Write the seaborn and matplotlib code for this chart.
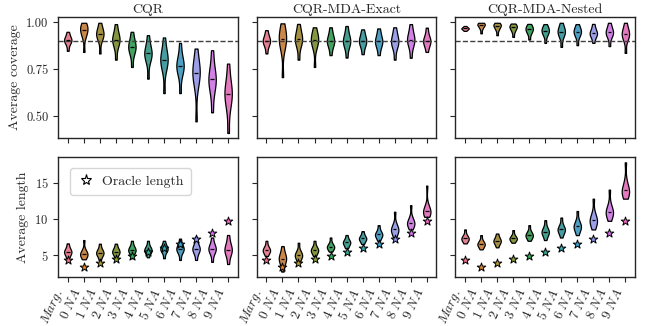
import numpy as np
import pandas as pd
import matplotlib
matplotlib.use("Agg")
import matplotlib.pyplot as plt
from matplotlib.lines import Line2D
import seaborn as sns

# categories (missing-data patterns) and panel titles
groups = ["Marg."] + [f"{k} NA" for k in range(10)]
tick_labels = [r"$Marg.$"] + [rf"${k}\ NA$" for k in range(10)]
methods = ["CQR", "CQR-MDA-Exact", "CQR-MDA-Nested"]

cov_cqr = [
    [0.847, 0.878, 0.892, 0.900, 0.904, 0.908, 0.916, 0.930, 0.948],
    [0.841, 0.915, 0.935, 0.950, 0.957, 0.964, 0.975, 0.986, 0.996],
    [0.833, 0.900, 0.918, 0.930, 0.936, 0.942, 0.955, 0.972, 0.996],
    [0.800, 0.862, 0.885, 0.899, 0.907, 0.915, 0.930, 0.952, 0.989],
    [0.761, 0.822, 0.845, 0.860, 0.868, 0.876, 0.892, 0.915, 0.948],
    [0.699, 0.785, 0.810, 0.825, 0.833, 0.841, 0.858, 0.885, 0.930],
    [0.622, 0.740, 0.772, 0.790, 0.800, 0.810, 0.830, 0.862, 0.918],
    [0.622, 0.712, 0.742, 0.759, 0.768, 0.777, 0.795, 0.830, 0.889],
    [0.472, 0.650, 0.695, 0.720, 0.731, 0.742, 0.765, 0.805, 0.859],
    [0.520, 0.615, 0.655, 0.683, 0.695, 0.707, 0.735, 0.780, 0.850],
    [0.410, 0.530, 0.578, 0.606, 0.619, 0.632, 0.660, 0.705, 0.779],
]
cov_exact = [
    [0.833, 0.868, 0.884, 0.894, 0.900, 0.906, 0.917, 0.933, 0.957],
    [0.707, 0.845, 0.880, 0.900, 0.910, 0.920, 0.940, 0.968, 0.993],
    [0.800, 0.862, 0.886, 0.901, 0.910, 0.919, 0.935, 0.958, 0.990],
    [0.761, 0.858, 0.882, 0.897, 0.905, 0.913, 0.927, 0.947, 0.972],
    [0.824, 0.862, 0.880, 0.892, 0.900, 0.908, 0.922, 0.942, 0.972],
    [0.811, 0.858, 0.878, 0.892, 0.900, 0.908, 0.922, 0.945, 0.979],
    [0.829, 0.864, 0.880, 0.892, 0.900, 0.908, 0.920, 0.938, 0.961],
    [0.824, 0.860, 0.878, 0.890, 0.898, 0.906, 0.920, 0.940, 0.966],
    [0.800, 0.856, 0.876, 0.889, 0.898, 0.907, 0.922, 0.944, 0.972],
    [0.810, 0.862, 0.884, 0.898, 0.907, 0.916, 0.932, 0.955, 0.989],
    [0.841, 0.868, 0.883, 0.893, 0.900, 0.907, 0.918, 0.938, 0.970],
]
cov_nested = [
    [0.953, 0.958, 0.962, 0.964, 0.966, 0.968, 0.970, 0.974, 0.979],
    [0.940, 0.962, 0.972, 0.979, 0.984, 0.987, 0.990, 0.993, 0.996],
    [0.930, 0.955, 0.966, 0.974, 0.979, 0.983, 0.987, 0.991, 0.996],
    [0.921, 0.946, 0.958, 0.966, 0.972, 0.976, 0.980, 0.985, 0.992],
    [0.907, 0.935, 0.947, 0.955, 0.961, 0.966, 0.972, 0.980, 0.990],
    [0.889, 0.925, 0.938, 0.947, 0.953, 0.959, 0.966, 0.976, 0.989],
    [0.868, 0.915, 0.931, 0.941, 0.948, 0.955, 0.964, 0.977, 0.996],
    [0.877, 0.918, 0.932, 0.942, 0.948, 0.954, 0.962, 0.974, 0.989],
    [0.889, 0.915, 0.927, 0.935, 0.940, 0.946, 0.955, 0.970, 0.990],
    [0.872, 0.915, 0.930, 0.939, 0.945, 0.951, 0.961, 0.976, 0.996],
    [0.836, 0.900, 0.918, 0.929, 0.936, 0.943, 0.955, 0.972, 0.996],
]

# per-group interval length observations
len_cqr = [
    [4.60, 4.98, 5.20, 5.38, 5.50, 5.62, 5.82, 6.12, 6.64],
    [4.45, 4.75, 4.95, 5.08, 5.18, 5.30, 5.50, 5.85, 7.10],
    [4.36, 4.85, 5.08, 5.24, 5.36, 5.48, 5.68, 5.98, 6.60],
    [4.45, 4.98, 5.22, 5.38, 5.50, 5.62, 5.82, 6.10, 6.60],
    [4.60, 5.20, 5.45, 5.61, 5.73, 5.85, 6.05, 6.35, 7.00],
    [4.73, 5.22, 5.46, 5.62, 5.73, 5.84, 6.04, 6.34, 7.00],
    [4.60, 5.35, 5.62, 5.78, 5.90, 6.02, 6.20, 6.48, 7.00],
    [4.36, 5.28, 5.58, 5.77, 5.90, 6.03, 6.25, 6.60, 7.30],
    [4.36, 5.22, 5.55, 5.76, 5.90, 6.04, 6.30, 6.70, 7.55],
    [4.10, 5.15, 5.52, 5.75, 5.90, 6.05, 6.30, 6.70, 7.45],
    [3.80, 4.85, 5.30, 5.60, 5.80, 6.00, 6.35, 6.90, 7.80],
]
len_exact = [
    [4.90, 5.25, 5.45, 5.61, 5.73, 5.85, 6.03, 6.35, 7.00],
    [2.76, 3.55, 4.05, 4.35, 4.55, 4.75, 5.05, 5.50, 6.27],
    [4.10, 4.50, 4.75, 4.92, 5.04, 5.16, 5.38, 5.75, 6.73],
    [4.90, 5.25, 5.45, 5.61, 5.73, 5.85, 6.03, 6.35, 7.00],
    [5.50, 5.78, 5.95, 6.08, 6.18, 6.28, 6.45, 6.75, 7.45],
    [5.96, 6.28, 6.50, 6.67, 6.78, 6.89, 7.05, 7.32, 7.80],
    [6.55, 6.88, 7.08, 7.22, 7.33, 7.44, 7.60, 7.88, 8.33],
    [7.00, 7.38, 7.60, 7.76, 7.87, 7.98, 8.18, 8.52, 9.15],
    [7.45, 7.95, 8.25, 8.44, 8.56, 8.70, 8.95, 9.45, 11.00],
    [8.56, 8.95, 9.18, 9.35, 9.47, 9.60, 9.85, 10.35, 11.90],
    [10.30, 10.58, 10.80, 10.96, 11.07, 11.20, 11.45, 12.00, 14.60],
]
len_nested = [
    [6.64, 6.92, 7.10, 7.23, 7.33, 7.43, 7.60, 7.90, 8.56],
    [5.82, 6.12, 6.32, 6.46, 6.55, 6.65, 6.82, 7.10, 7.78],
    [6.10, 6.50, 6.72, 6.88, 7.00, 7.12, 7.30, 7.58, 8.00],
    [6.73, 6.98, 7.14, 7.25, 7.33, 7.42, 7.58, 7.85, 8.47],
    [7.00, 7.32, 7.53, 7.68, 7.78, 7.89, 8.08, 8.40, 9.15],
    [7.10, 7.65, 7.92, 8.11, 8.24, 8.37, 8.60, 9.00, 9.84],
    [7.45, 7.98, 8.25, 8.44, 8.56, 8.69, 8.92, 9.32, 10.20],
    [7.78, 8.32, 8.64, 8.86, 9.00, 9.15, 9.42, 9.90, 11.10],
    [8.56, 9.08, 9.42, 9.67, 9.84, 10.02, 10.35, 11.00, 12.80],
    [9.75, 10.28, 10.62, 10.85, 11.00, 11.17, 11.50, 12.20, 14.04],
    [12.80, 13.22, 13.52, 13.76, 13.94, 14.14, 14.55, 15.40, 17.80],
]

oracle_length = [4.40, 3.40, 3.90, 4.45, 4.95, 5.50, 5.95, 6.55, 7.20, 8.10, 9.75]
target_coverage = 0.9

sns.set_style("ticks")
plt.rcParams.update({
    "font.family": "serif",
    "font.serif": ["cmr10", "DejaVu Serif"],
    "mathtext.fontset": "cm",
    "axes.formatter.use_mathtext": True,
    "axes.unicode_minus": False,
    "xtick.major.size": 3.5,
    "ytick.major.size": 3.5,
    "axes.linewidth": 1.0,
})

palette = sns.color_palette("husl", len(groups))


def to_long(samples):
    return pd.DataFrame({
        "group": np.repeat(groups, [len(s) for s in samples]),
        "value": np.concatenate(samples),
    })


def draw_violins(ax, samples):
    df = to_long(samples)
    sns.violinplot(data=df, x="group", y="value", hue="group", order=groups,
                   hue_order=groups, palette=palette, cut=0, inner=None,
                   density_norm="width", width=0.46, linewidth=0.9,
                   linecolor="k", bw_adjust=0.8, legend=False, ax=ax)
    med = df.groupby("group", sort=False)["value"].median().reindex(groups)
    xs = np.arange(len(groups))
    ax.hlines(med.values, xs - 0.11, xs + 0.11, color="k", lw=0.9, zorder=3)


fig, axes = plt.subplots(2, 3, figsize=(6.46, 3.26), dpi=100,
                         sharex=True, sharey="row")

for j, (cov, ln) in enumerate(zip([cov_cqr, cov_exact, cov_nested],
                                  [len_cqr, len_exact, len_nested])):
    ax = axes[0, j]
    draw_violins(ax, cov)
    ax.axhline(target_coverage, color=".25", ls="--", lw=1.0, zorder=2.5)
    ax.set_title(methods[j], fontsize=10, pad=3)

    ax = axes[1, j]
    draw_violins(ax, ln)
    sns.stripplot(x=groups, y=oracle_length, hue=groups, palette=palette,
                  order=groups, hue_order=groups, jitter=False, marker="*",
                  size=6.5, linewidth=0.7, edgecolor="k", legend=False,
                  zorder=4, ax=ax)
    ax.set_xticks(range(len(groups)))
    ax.set_xticklabels(tick_labels, rotation=65, ha="right", fontsize=9.5)

for ax in axes.flat:
    ax.set_xlabel("")
    ax.set_ylabel("")
    ax.tick_params(axis="y", labelsize=9)

axes[0, 0].set_ylim(0.386, 1.027)
axes[0, 0].set_yticks([0.5, 0.75, 1.0])
axes[0, 0].set_yticklabels(["0.50", "0.75", "1.00"])
axes[1, 0].set_ylim(2.0, 18.6)
axes[1, 0].set_yticks([5, 10, 15])
axes[0, 0].set_xlim(-0.6, len(groups) - 0.4)

axes[0, 0].set_ylabel("Average coverage", fontsize=10)
axes[1, 0].set_ylabel("Average length", fontsize=10)

star = Line2D([0], [0], marker="*", ls="", markerfacecolor="w",
              markeredgecolor="k", markeredgewidth=0.8, markersize=8)
axes[1, 0].legend(handles=[star], labels=["Oracle length"], loc="upper left",
                  fontsize=10, handlelength=1.2, handletextpad=0.6,
                  borderpad=0.5, bbox_to_anchor=(0.03, 0.96))

fig.subplots_adjust(left=0.09, right=0.983, top=0.948, bottom=0.15,
                    wspace=0.106, hspace=0.158)
fig.savefig("out.png", dpi=100)
